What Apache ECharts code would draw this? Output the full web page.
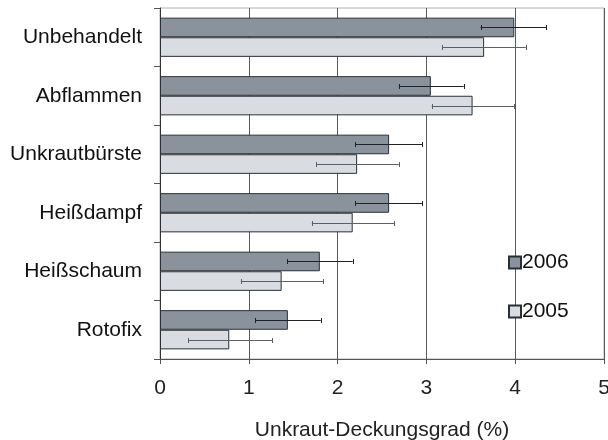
<!DOCTYPE html>
<html><head><meta charset="utf-8">
<script src="https://cdn.jsdelivr.net/npm/echarts@6/dist/echarts.min.js"></script>
<style>html,body{margin:0;padding:0;background:#fff}#c{width:608px;height:440px}</style>
</head><body><div id="c"></div>
<script>
var categories = ['Unbehandelt','Abflammen','Unkrautbürste','Heißdampf','Heißschaum','Rotofix'];
var v2006 = [3.99, 3.05, 2.58, 2.58, 1.80, 1.44];
var v2005 = [3.65, 3.52, 2.22, 2.17, 1.37, 0.78];
var lo2006 = [3.61, 2.69, 2.20, 2.20, 1.43, 1.07];
var hi2006 = [4.35, 3.42, 2.95, 2.95, 2.17, 1.81];
var lo2005 = [3.18, 3.06, 1.76, 1.71, 0.91, 0.32];
var hi2005 = [4.12, 3.99, 2.69, 2.64, 1.84, 1.26];
var xTicks = [0,1,2,3,4,5];

var GAP = 0.33;
function errSeries(name, lo, hi, idx, color) {
  return {
    type: 'custom', name: name + 'err', z: 10, silent: true,
    encode: {x: [1,2], y: 0},
    data: categories.map(function(c,i){ return [i, lo[i], hi[i]]; }),
    renderItem: function(params, api) {
      var band = api.size([0,1])[1];
      var bw = band * (1 - GAP) / 2;
      var off = idx === 0 ? -bw/2 : bw/2;
      var a = api.coord([api.value(1), api.value(0)]);
      var b = api.coord([api.value(2), api.value(0)]);
      var y = Math.round(a[1] + off) + 0.5;
      var h = 2.5;
      var st = {stroke: color, lineWidth: 1};
      return {type: 'group', children: [
        {type:'line', shape:{x1:a[0], y1:y, x2:b[0], y2:y}, style: st},
        {type:'line', shape:{x1:Math.round(a[0])+0.5, y1:y-h, x2:Math.round(a[0])+0.5, y2:y+h}, style: st},
        {type:'line', shape:{x1:Math.round(b[0])+0.5, y1:y-h, x2:Math.round(b[0])+0.5, y2:y+h}, style: st}
      ]};
    }
  };
}

var chart = echarts.init(document.getElementById('c'), null, {renderer: 'canvas'});
chart.setOption({
  animation: false,
  textStyle: {fontFamily: 'Liberation Sans, Arial, sans-serif'},
  grid: {left: 160, right: 4, top: 8, bottom: 81, show: true, borderColor: '#b0b0b0', borderWidth: 1,
         containLabel: false, outerBoundsMode: 'none'},
  legend: {
    orient: 'vertical', left: 503, top: 247, itemGap: 28, itemWidth: 12, itemHeight: 12,
    data: ['2006','2005'], textStyle: {fontSize: 21, color: '#111', padding: [0,0,0,-4]},
    icon: 'rect'
  },
  xAxis: {
    type: 'value', min: 0, max: 5, interval: 1,
    axisLine: {show: true, lineStyle: {color: '#555', width: 1}},
    axisTick: {show: true, length: 5, lineStyle: {color: '#555'}},
    axisLabel: {fontSize: 21, color: '#222', margin: 19, formatter: function(v){ return xTicks.indexOf(v) >= 0 ? String(v) : ''; }},
    splitLine: {show: true, lineStyle: {color: '#5a5a5a', width: 1}},
    name: 'Unkraut-Deckungsgrad (%)', nameLocation: 'middle', nameGap: 61,
    nameTextStyle: {fontSize: 21, color: '#222'}
  },
  yAxis: {
    type: 'category', data: categories, inverse: true,
    axisLine: {show: true, lineStyle: {color: '#333', width: 1}},
    axisTick: {show: true, length: 6, lineStyle: {color: '#555'}},
    axisLabel: {fontSize: 21, color: '#111', margin: 18}
  },
  series: [
    {name: '2006', type: 'bar', data: v2006, barGap: '0%', barCategoryGap: '33%',
     itemStyle: {color: '#8a939c', borderColor: '#2a2f36', borderWidth: 1}},
    {name: '2005', type: 'bar', data: v2005, barGap: '0%', barCategoryGap: '33%',
     itemStyle: {color: '#d9dde1', borderColor: '#2a2f36', borderWidth: 1}},
    errSeries('2006', lo2006, hi2006, 0, '#1e2329'),
    errSeries('2005', lo2005, hi2005, 1, '#5b6068')
  ]
});
</script></body></html>
